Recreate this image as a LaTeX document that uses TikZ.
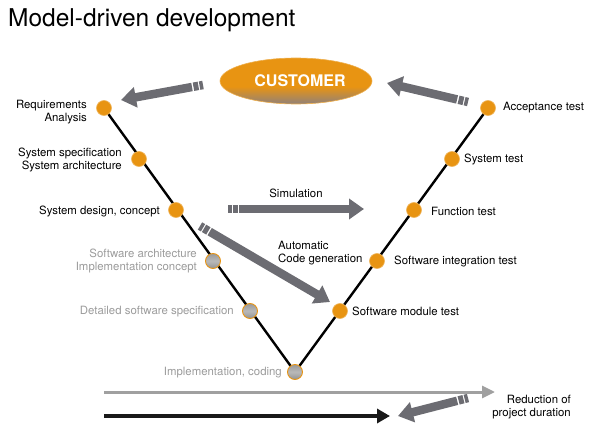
\documentclass[tikz,border=0pt]{standalone}
\usepackage{fontspec}
\setmainfont{TeX Gyre Heros}
\usetikzlibrary{arrows.meta,shapes.geometric,calc}
\definecolor{orangeC}{RGB}{232,148,18}
\definecolor{arrC}{RGB}{108,108,114}
\definecolor{txtgray}{RGB}{155,155,155}
\definecolor{lineGray}{RGB}{160,160,160}
\definecolor{custbot}{RGB}{150,130,115}
\pgfdeclareverticalshading{custsh}{100bp}{color(0bp)=(custbot); color(26bp)=(custbot); color(44bp)=(orangeC); color(100bp)=(orangeC)}
\begin{document}
\begin{tikzpicture}[x=1pt,y=-1pt,
  font=\fontsize{11.4}{12.5}\selectfont,
  dot/.style={circle,minimum size=15pt,inner sep=0pt,fill=orangeC,draw=orangeC!70!white,line width=0.6pt},
  graydot/.style={circle,minimum size=15pt,inner sep=0pt,top color=gray!80,bottom color=gray!85,middle color=gray!55,draw=orangeC,line width=0.9pt},
  lbl/.style={align=right,anchor=east,inner sep=0pt},
  rlbl/.style={align=left,anchor=west,inner sep=0pt},
  glbl/.style={lbl,text=txtgray},
  fat/.style={line width=8.5pt,draw=arrC,dash pattern=on 3.5pt off 1.2pt on 5pt off 1.5pt on 2000pt,-{Triangle[width=20pt,length=15pt]}},
  vline/.style={line width=2.4pt,black}]
\useasboundingbox (0,0) rectangle (590,428);
% title
\node[anchor=base west,inner sep=0pt,font=\fontsize{24.5}{28}\selectfont] (title) at (8,27) {Model-driven development};
% V points
\coordinate (pReq) at (104,108);
\coordinate (pSpec) at (139,159);
\coordinate (pDes) at (176,210);
\coordinate (pArch) at (213,261);
\coordinate (pDet) at (250,311);
\coordinate (pImp) at (295,372);
\coordinate (pMod) at (340,311);
\coordinate (pInt) at (377,261);
\coordinate (pFun) at (414,210);
\coordinate (pSys) at (452,159);
\coordinate (pAcc) at (488,108);
\draw[vline] (pReq) -- (pImp) -- (pAcc);
\node[dot] (req) at (pReq) {};
\node[dot] (spec) at (pSpec) {};
\node[dot] (des) at (pDes) {};
\node[graydot] (arch) at (pArch) {};
\node[graydot] (det) at (pDet) {};
\node[graydot] (imp) at (pImp) {};
\node[dot] (mod) at (pMod) {};
\node[dot] (int) at (pInt) {};
\node[dot] (fun) at (pFun) {};
\node[dot] (sys) at (pSys) {};
\node[dot] (acc) at (pAcc) {};
% labels
\node[lbl] (reqL) at (87,112) {Requirements\\Analysis};
\node[lbl] (specL) at (122,160) {System specification\\System architecture};
\node[lbl] (desL) at (160,211) {System design, concept};
\node[glbl] (archL) at (197,261) {Software architecture\\Implementation concept};
\node[glbl] (detL) at (234,312) {Detailed software specification};
\node[glbl] (impL) at (282,373) {Implementation, coding};
\node[rlbl] (modL) at (352,311) {Software module test};
\node[rlbl] (intL) at (394,261) {Software integration test};
\node[rlbl] (funL) at (431,211) {Function test};
\node[rlbl] (sysL) at (464,159) {System test};
\node[rlbl] (accL) at (503,108) {Acceptance test};
% customer
\node[ellipse,minimum width=152pt,minimum height=46pt,shading=custsh,draw=orangeC!75!white,line width=0.6pt,inner sep=0pt,text=white,font=\bfseries\fontsize{16}{18}\selectfont] (cust) at (296,81) {\hspace{8pt}CUSTOMER};
% fat arrows
\coordinate (a1s) at (203,85); \coordinate (a1e) at (121,100);
\coordinate (a2s) at (468,102); \coordinate (a2e) at (387,83);
\coordinate (a3s) at (228,209); \coordinate (a3e) at (364,209);
\coordinate (a4s) at (200,226); \coordinate (a4e) at (330,302);
\coordinate (a5s) at (468,398); \coordinate (a5e) at (398,416);
\draw[fat] (a1s) -- (a1e);
\draw[fat] (a2s) -- (a2e);
\draw[fat] (a3s) -- (a3e);
\draw[fat] (a4s) -- (a4e);
\draw[fat] (a5s) -- (a5e);
\node (simL) at (296,193) {Simulation};
\node[rlbl] (codeL) at (278,253) {Automatic\\Code generation};
\node[lbl] (redL) at (571,407) {Reduction of\\project duration};
% timelines
\coordinate (t1s) at (104,392); \coordinate (t1e) at (495,392);
\coordinate (t2s) at (104,416); \coordinate (t2e) at (390,416);
\draw[line width=3pt,lineGray,-{Triangle[width=12pt,length=13pt]}] (t1s) -- (t1e);
\draw[line width=4pt,black!90,-{Triangle[width=14pt,length=13pt]}] (t2s) -- (t2e);
\end{tikzpicture}
\end{document}
